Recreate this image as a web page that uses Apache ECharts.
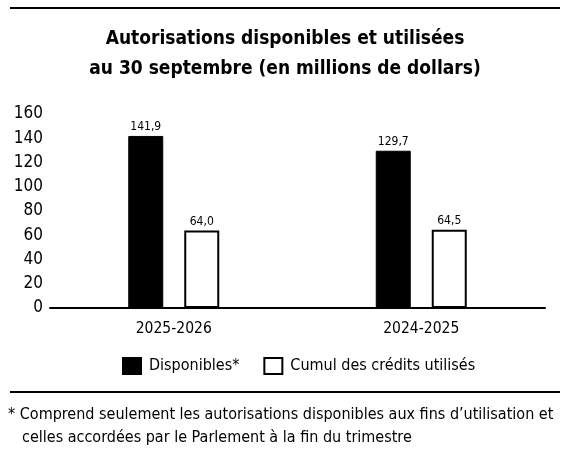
<!DOCTYPE html>
<html>
<head>
<meta charset="utf-8">
<script src="https://cdn.jsdelivr.net/npm/echarts@6/dist/echarts.min.js"></script>
<style>
html,body{margin:0;padding:0;background:#fff;}
#c{width:570px;height:458px;}
</style>
</head>
<body>
<div id="c"></div>
<script>
const categories = ['2025-2026', '2024-2025'];
const disponibles = [141.9, 129.7];
const utilises = [64.0, 64.5];
const seriesNames = ['Disponibles*', 'Cumul des crédits utilisés'];
const yTicks = [0, 20, 40, 60, 80, 100, 120, 140, 160];
const titleLines = ['Autorisations disponibles et utilisées', 'au 30 septembre (en millions de dollars)'];
const footnoteLines = ['* Comprend seulement les autorisations disponibles aux fins d\u2019utilisation et', 'celles accordées par le Parlement à la fin du trimestre'];

const FONT = '"Liberation Sans Narrow", "DejaVu Sans Condensed", "Noto Sans", sans-serif';
const chart = echarts.init(document.getElementById('c'));
const fmt = p => p.value.toFixed(1).replace('.', ',');

chart.setOption({
  animation: false,
  backgroundColor: '#fff',
  textStyle: { fontFamily: FONT, color: '#000' },
  title: {
    text: titleLines.join('\n'),
    left: 'center',
    top: 19,
    textStyle: { fontFamily: FONT, fontSize: 19, fontWeight: 'bold', color: '#000', lineHeight: 30 }
  },
  legend: {
    data: seriesNames,
    left: 117,
    top: 352,
    icon: 'rect',
    itemWidth: 18,
    itemHeight: 16,
    itemGap: 24,
    itemStyle: { borderWidth: 2, borderColor: '#000' },
    textStyle: { fontFamily: FONT, fontSize: 16, color: '#000', padding: [0, 0, 0, 3] }
  },
  grid: { left: 50, right: 25, top: 114, bottom: 150 },
  xAxis: {
    type: 'category',
    data: categories,
    axisLine: { lineStyle: { color: '#000', width: 2 } },
    axisTick: { show: false },
    axisLabel: { fontFamily: FONT, fontSize: 15.5, color: '#000', margin: 13 }
  },
  yAxis: {
    type: 'value',
    min: yTicks[0],
    max: yTicks[yTicks.length - 1],
    interval: yTicks[1] - yTicks[0],
    axisLine: { show: false },
    axisTick: { show: false },
    splitLine: { show: false },
    axisLabel: { fontFamily: FONT, fontSize: 17, color: '#000', margin: 7 }
  },
  series: [
    {
      name: seriesNames[0],
      type: 'bar',
      data: disponibles,
      barWidth: 35,
      barGap: '60%',
      itemStyle: { color: '#000', borderColor: '#000', borderWidth: 1 },
      label: { show: true, position: 'top', distance: 3, formatter: fmt, fontFamily: FONT, fontSize: 12, color: '#000' }
    },
    {
      name: seriesNames[1],
      type: 'bar',
      data: utilises,
      barWidth: 35,
      barGap: '60%',
      itemStyle: { color: '#fff', borderColor: '#000', borderWidth: 2 },
      label: { show: true, position: 'top', distance: 3, formatter: fmt, fontFamily: FONT, fontSize: 12, color: '#000' }
    }
  ],
  graphic: [
    { type: 'line', shape: { x1: 10, y1: 8, x2: 560, y2: 8 }, style: { stroke: '#000', lineWidth: 2 } },
    { type: 'line', shape: { x1: 10, y1: 392, x2: 560, y2: 392 }, style: { stroke: '#000', lineWidth: 2 } },
    { type: 'text', left: 8, top: 407, style: { text: footnoteLines[0], fontFamily: FONT, fontSize: 16, fill: '#000' } },
    { type: 'text', left: 22, top: 430, style: { text: footnoteLines[1], fontFamily: FONT, fontSize: 16, fill: '#000' } }
  ]
});
</script>
</body>
</html>
